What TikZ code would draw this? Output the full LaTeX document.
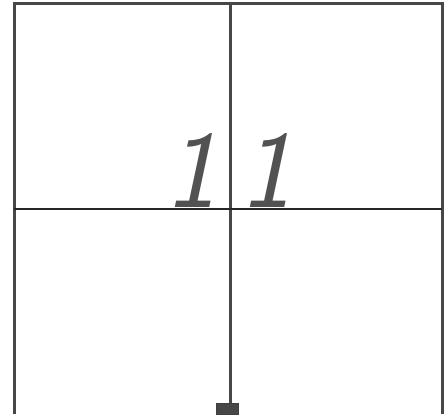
\documentclass[tikz,border=0pt]{standalone}
\begin{document}
\begin{tikzpicture}[x=1pt,y=-1pt,
  frame/.style={draw=black!72,line width=3pt},
  midline/.style={draw=black!85,line width=2.5pt},
  digit/.style={inner sep=0pt,text=black!68,font=\fontsize{110}{110}\sffamily\slshape}]
\useasboundingbox (0,0) rectangle (446,414);
\coordinate (tl) at (14,4);
\coordinate (tr) at (442,4);
\coordinate (bl) at (14,414);
\coordinate (br) at (442,414);
\coordinate (mt) at (230,4);
\coordinate (mb) at (230,404);
\coordinate (ml) at (14,209);
\coordinate (mr) at (442,209);
\draw[frame] (bl) -- (tl) -- (tr) -- (br);
\draw[frame] (mt) -- (mb);
\draw[midline] (ml) -- (mr);
\node[draw=black!75,fill=black!72,minimum width=22pt,minimum height=11pt,inner sep=0pt,anchor=south] (foot) at (227,414) {};
\node[digit,anchor=base] (d1) at (191,207) {1};
\node[digit,anchor=base] (d2) at (266,207) {1};
\end{tikzpicture}
\end{document}
